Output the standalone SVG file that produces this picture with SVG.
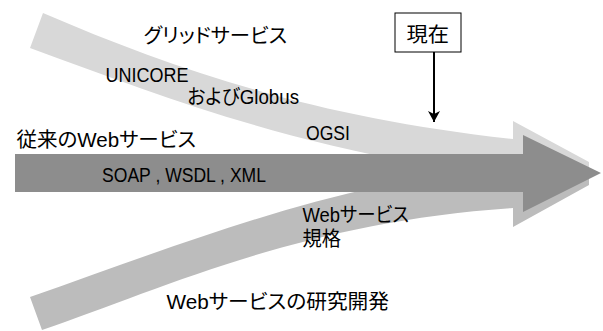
<svg xmlns="http://www.w3.org/2000/svg" width="603" height="331" viewBox="0 0 603 331">
<style>
text{font-family:"Liberation Sans","Noto Sans CJK JP",sans-serif;font-size:20px;fill:#000;font-feature-settings:"palt";}
.top{fill:#d8d8d8;}
.bot{fill:#bcbcbc;}
.main{fill:#8d8d8d;}
</style>
<defs>
<marker id="ah" markerWidth="11" markerHeight="12" refX="11" refY="6" orient="auto" markerUnits="userSpaceOnUse" viewBox="0 0 11 12">
<path d="M0,0 L3,6 L0,12 L11,6 Z" fill="#000"/>
</marker>
</defs>
<g id="grid-band">
<path class="top" d="M43,13 C180,72 320,118 513,139 L513,121 L589,162 L589,176 L420,176 L420,164 C260,135 150,92 30,48 Z"/>
<text x="143.5" y="42.5" textLength="143.5" lengthAdjust="spacingAndGlyphs">グリッドサービス</text>
<text x="105.5" y="82" textLength="83" lengthAdjust="spacingAndGlyphs">UNICORE</text>
<text x="187.5" y="104" textLength="111.5" lengthAdjust="spacingAndGlyphs">およびGlobus</text>
<text x="306" y="140" textLength="44" lengthAdjust="spacingAndGlyphs">OGSI</text>
</g>
<g id="research-band">
<path class="bot" d="M30,297 C150,255 260,212 380,186 L380,172 L589,172 L589,185 L513,227 L513,208 C300,222 160,290 42,330 Z"/>
<text x="166.5" y="309" textLength="222.5" lengthAdjust="spacingAndGlyphs">Webサービスの研究開発</text>
<text x="302.5" y="222" textLength="106.5" lengthAdjust="spacingAndGlyphs">Webサービス</text>
<text x="302.5" y="245.5" textLength="38.5" lengthAdjust="spacingAndGlyphs">規格</text>
</g>
<g id="web-services">
<path class="main" d="M15,154 L523,154 L523,135 L601,173 L523,212 L523,192 L15,192 Z"/>
<text x="16.5" y="147" textLength="179.5" lengthAdjust="spacingAndGlyphs">従来のWebサービス</text>
<text x="102" y="181.5" textLength="164" lengthAdjust="spacingAndGlyphs">SOAP , WSDL , XML</text>
</g>
<g id="now">
<rect x="395" y="13" width="66" height="39" fill="#fff" stroke="#000" stroke-width="1"/>
<text x="406.5" y="41.5" textLength="42.5" lengthAdjust="spacingAndGlyphs">現在</text>
</g>
<g id="connectors">
<line x1="434" y1="52" x2="434" y2="122" stroke="#000" stroke-width="2" marker-end="url(#ah)"/>
</g>
</svg>
